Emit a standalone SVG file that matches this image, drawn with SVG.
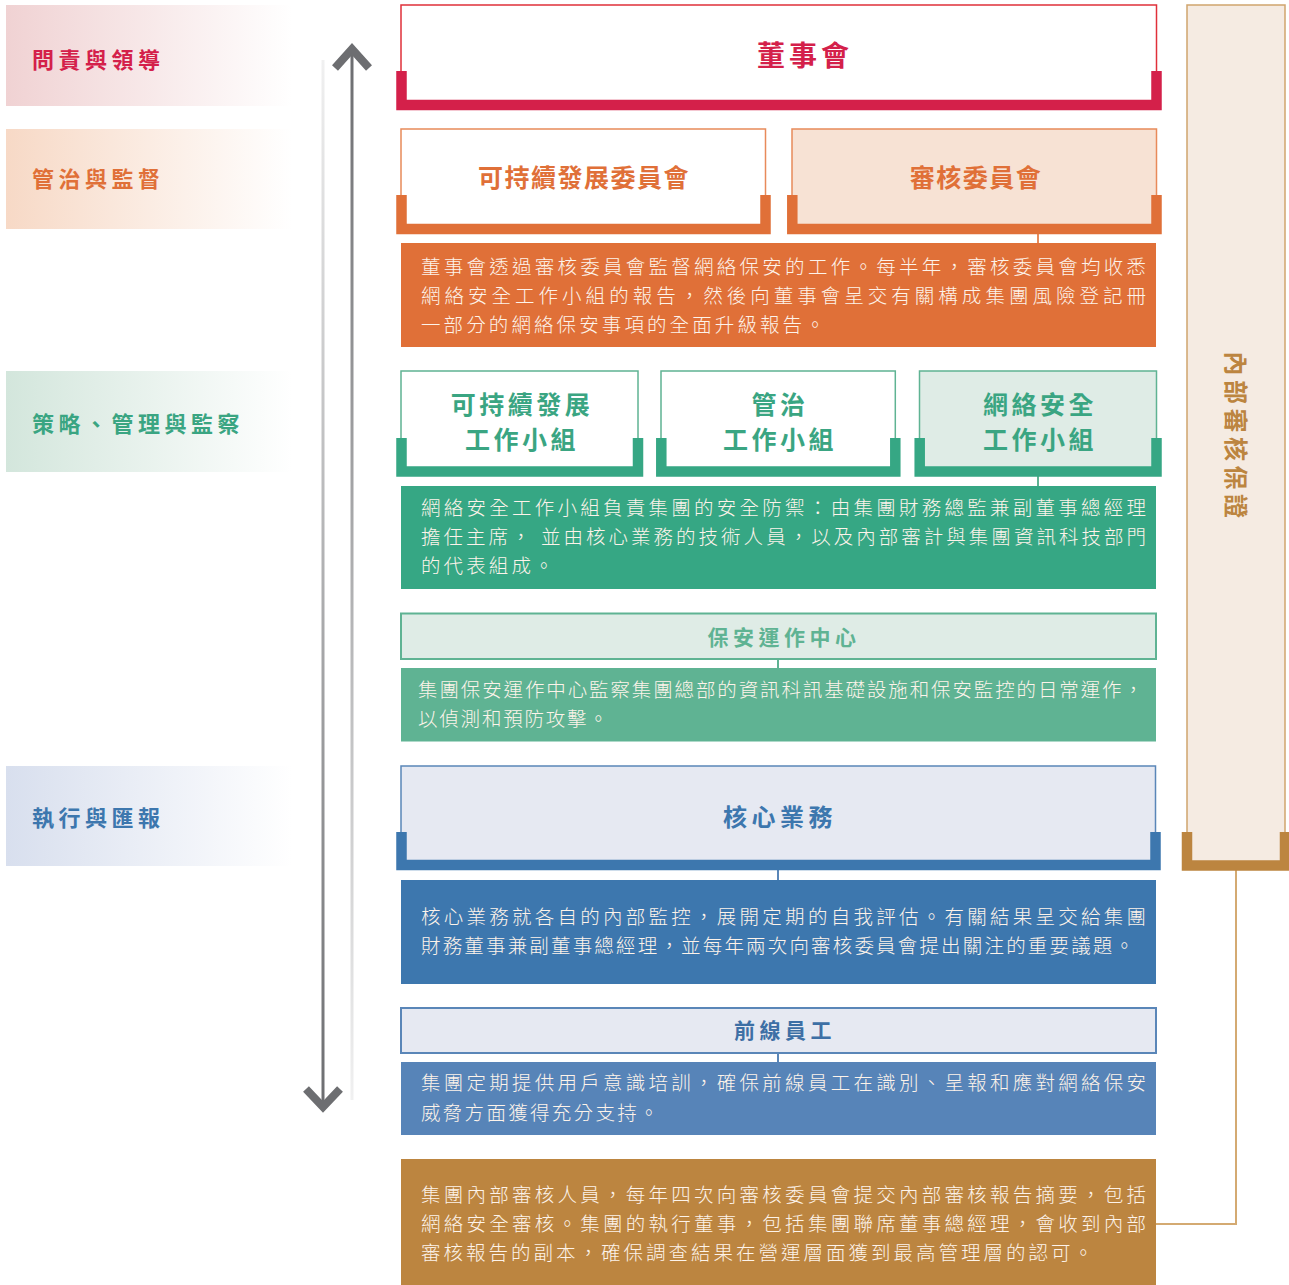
<svg xmlns="http://www.w3.org/2000/svg" width="1289" height="1285" viewBox="0 0 1289 1285">
<defs>
<linearGradient id="gRed" x1="0" x2="1" y1="0" y2="0"><stop offset="0" stop-color="#f0d2d3"/><stop offset="1" stop-color="#ffffff"/></linearGradient>
<linearGradient id="gOra" x1="0" x2="1" y1="0" y2="0"><stop offset="0" stop-color="#f7d9c6"/><stop offset="1" stop-color="#ffffff"/></linearGradient>
<linearGradient id="gGrn" x1="0" x2="1" y1="0" y2="0"><stop offset="0" stop-color="#d3e6dc"/><stop offset="1" stop-color="#ffffff"/></linearGradient>
<linearGradient id="gBlu" x1="0" x2="1" y1="0" y2="0"><stop offset="0" stop-color="#d8dfee"/><stop offset="1" stop-color="#ffffff"/></linearGradient>
<linearGradient id="gUp" gradientUnits="userSpaceOnUse" x1="0" y1="60" x2="0" y2="1100"><stop offset="0" stop-color="#6d6e71"/><stop offset="1" stop-color="#6d6e71" stop-opacity="0.1"/></linearGradient>
<linearGradient id="gDown" gradientUnits="userSpaceOnUse" x1="0" y1="60" x2="0" y2="1100"><stop offset="0" stop-color="#6d6e71" stop-opacity="0.1"/><stop offset="1" stop-color="#6d6e71"/></linearGradient>
</defs>
<style>
text{font-family:"Noto Sans CJK TC","Noto Sans CJK SC",sans-serif;}
.lab{font-size:22px;font-weight:700;letter-spacing:4.5px;}
.ttl{font-weight:700;text-anchor:middle;}
.desc{font-size:19.5px;font-weight:300;fill:#fdf3ea;}
.thin{stroke-width:1.5;}
.br{fill:none;stroke-width:10.5;stroke-linejoin:miter;stroke-linecap:butt;}
.conn{fill:none;stroke-width:2;}
</style>

<g id="labels">
<g id="label-accountability"><rect x="6" y="5" width="286" height="101" fill="url(#gRed)"/><text class="lab" x="32" y="68" fill="#d4204a">問責與領導</text></g>
<g id="label-governance"><rect x="6" y="129" width="286" height="100" fill="url(#gOra)"/><text class="lab" x="32" y="187" fill="#e07038">管治與監督</text></g>
<g id="label-strategy"><rect x="6" y="371" width="286" height="101" fill="url(#gGrn)"/><text class="lab" x="32" y="432" fill="#3aa582">策略、管理與監察</text></g>
<g id="label-execution"><rect x="6" y="766" width="286" height="100" fill="url(#gBlu)"/><text class="lab" x="32" y="826" fill="#3d77ae">執行與匯報</text></g>
</g>

<g id="arrows">
<line x1="352" y1="50" x2="352" y2="1100" stroke="url(#gUp)" stroke-width="3"/>
<polyline points="335,68 352,49 369,68" fill="none" stroke="#6d6e71" stroke-width="8" stroke-linejoin="miter"/>
<line x1="323" y1="60" x2="323" y2="1105" stroke="url(#gDown)" stroke-width="3"/>
<polyline points="306,1089 323,1107 340,1089" fill="none" stroke="#6d6e71" stroke-width="8" stroke-linejoin="miter"/>
</g>

<g id="connectors">
<line class="conn" x1="1038" y1="234" x2="1038" y2="243" stroke="#e88a5a"/>
<line class="conn" x1="1038" y1="476" x2="1038" y2="486" stroke="#5fb393"/>
<line class="conn" x1="778" y1="659" x2="778" y2="668" stroke="#5fb393"/>
<line class="conn" x1="778" y1="870" x2="778" y2="880" stroke="#5a86b8"/>
<line class="conn" x1="778" y1="1053" x2="778" y2="1062" stroke="#5a86b8"/>
<polyline class="conn" points="1236,870 1236,1224 1156,1224" stroke="#d4aa72"/>
</g>

<g id="board">
<rect x="401" y="5" width="755.5" height="98" fill="#ffffff" stroke="#e0303a" class="thin"/>
<path class="br" d="M401.5,71 V105 H1156.5 V71" stroke="#d4204a"/>
<text class="ttl" x="805" y="66" font-size="28" letter-spacing="4" fill="#d4204a">董事會</text>
</g>

<g id="sustainability-committee">
<rect x="401" y="129" width="364.5" height="98" fill="#ffffff" stroke="#e88a5a" class="thin"/>
<path class="br" d="M401.5,195 V229 H765.5 V195" stroke="#e07038"/>
<text class="ttl" x="584" y="187" font-size="25" letter-spacing="1.5" fill="#e07038">可持續發展委員會</text>
</g>

<g id="audit-committee">
<rect x="792" y="129" width="364.5" height="98" fill="#f7e2d4" stroke="#e88a5a" class="thin"/>
<path class="br" d="M792.3,195 V229 H1156.5 V195" stroke="#e07038"/>
<text class="ttl" x="976" y="187" font-size="25" letter-spacing="1.5" fill="#e07038">審核委員會</text>
</g>

<g id="audit-desc">
<rect x="401" y="243" width="755" height="104" fill="#e07038"/>
<text class="desc" x="421" y="274" textLength="725" lengthAdjust="spacing">董事會透過審核委員會監督網絡保安的工作。每半年，審核委員會均收悉</text>
<text class="desc" x="421" y="303" textLength="725" lengthAdjust="spacing">網絡安全工作小組的報告，然後向董事會呈交有關構成集團風險登記冊</text>
<text class="desc" x="421" y="332" letter-spacing="3.1">一部分的網絡保安事項的全面升級報告。</text>
</g>

<g id="wg-sustainability">
<rect x="401" y="371" width="237" height="98" fill="#ffffff" stroke="#5fb393" class="thin"/>
<path class="br" d="M401.5,438 V471.5 H638 V438" stroke="#36a784"/>
<text class="ttl" x="522" y="414" font-size="25" letter-spacing="3.5" fill="#3aa582">可持續發展</text>
<text class="ttl" x="522" y="449" font-size="25" letter-spacing="3.5" fill="#3aa582">工作小組</text>
</g>

<g id="wg-governance">
<rect x="661" y="371" width="234.3" height="98" fill="#ffffff" stroke="#5fb393" class="thin"/>
<path class="br" d="M661.3,438 V471.5 H895.3 V438" stroke="#36a784"/>
<text class="ttl" x="780" y="414" font-size="25" letter-spacing="3.5" fill="#3aa582">管治</text>
<text class="ttl" x="780" y="449" font-size="25" letter-spacing="3.5" fill="#3aa582">工作小組</text>
</g>

<g id="wg-cyber">
<rect x="919.5" y="371" width="237" height="98" fill="#dfece6" stroke="#5fb393" class="thin"/>
<path class="br" d="M919.7,438 V471.5 H1156.5 V438" stroke="#36a784"/>
<text class="ttl" x="1040" y="414" font-size="25" letter-spacing="3.5" fill="#3aa582">網絡安全</text>
<text class="ttl" x="1040" y="449" font-size="25" letter-spacing="3.5" fill="#3aa582">工作小組</text>
</g>

<g id="cyber-desc">
<rect x="401" y="486" width="755" height="103" fill="#36a784"/>
<text class="desc" x="421" y="515" textLength="725" lengthAdjust="spacing">網絡安全工作小組負責集團的安全防禦：由集團財務總監兼副董事總經理</text>
<text class="desc" x="421" y="544" textLength="725" lengthAdjust="spacing" xml:space="preserve">擔任主席， 並由核心業務的技術人員，以及內部審計與集團資訊科技部門</text>
<text class="desc" x="421" y="573" letter-spacing="3.1">的代表組成。</text>
</g>

<g id="soc">
<rect x="401" y="613.5" width="755" height="45.5" fill="#dfece6" stroke="#5fb393" stroke-width="2"/>
<text class="ttl" x="784" y="645" font-size="21" letter-spacing="4.5" fill="#5fb393">保安運作中心</text>
</g>

<g id="soc-desc">
<rect x="401" y="668" width="755" height="73.5" fill="#5fb393"/>
<text class="desc" x="418" y="697" textLength="725" lengthAdjust="spacing">集團保安運作中心監察集團總部的資訊科訊基礎設施和保安監控的日常運作，</text>
<text class="desc" x="418" y="726" letter-spacing="1.8">以偵測和預防攻擊。</text>
</g>

<g id="core-business">
<rect x="401" y="766" width="754.5" height="96" fill="#e6e9f2" stroke="#5a86b8" class="thin"/>
<path class="br" d="M401.5,832 V865 H1155.5 V832" stroke="#3d77ae"/>
<text class="ttl" x="780" y="826" font-size="24" letter-spacing="4.5" fill="#3d77ae">核心業務</text>
</g>

<g id="core-desc">
<rect x="401" y="880" width="755" height="104" fill="#3d77ae"/>
<text class="desc" x="421" y="924" textLength="725" lengthAdjust="spacing">核心業務就各自的內部監控，展開定期的自我評估。有關結果呈交給集團</text>
<text class="desc" x="421" y="953" textLength="713" lengthAdjust="spacing">財務董事兼副董事總經理，並每年兩次向審核委員會提出關注的重要議題。</text>
</g>

<g id="frontline">
<rect x="401" y="1008" width="755" height="45" fill="#e6e9f2" stroke="#5a86b8" stroke-width="2"/>
<text class="ttl" x="785" y="1038" font-size="21" letter-spacing="4.5" fill="#3d6fa5">前線員工</text>
</g>

<g id="frontline-desc">
<rect x="401" y="1062" width="755" height="73" fill="#5784b8"/>
<text class="desc" x="421" y="1090" textLength="725" lengthAdjust="spacing">集團定期提供用戶意識培訓，確保前線員工在識別、呈報和應對網絡保安</text>
<text class="desc" x="421" y="1120" letter-spacing="2.3">威脅方面獲得充分支持。</text>
</g>

<g id="internal-audit">
<rect x="1187" y="5" width="98" height="857" fill="#f5ebe2" stroke="#d0a56d" class="thin"/>
<path class="br" d="M1187,832 V865.5 H1285 V832" stroke="#bc8540"/>
<text class="ttl" transform="translate(1237,437) rotate(90)" dominant-baseline="central" font-size="24" letter-spacing="4.5" fill="#bc8540">內部審核保證</text>
</g>

<g id="internal-audit-desc">
<rect x="401" y="1159" width="755" height="126" fill="#bc8540"/>
<text class="desc" x="421" y="1202" textLength="725" lengthAdjust="spacing">集團內部審核人員，每年四次向審核委員會提交內部審核報告摘要，包括</text>
<text class="desc" x="421" y="1231" textLength="725" lengthAdjust="spacing">網絡安全審核。集團的執行董事，包括集團聯席董事總經理，會收到內部</text>
<text class="desc" x="421" y="1260" letter-spacing="3.0">審核報告的副本，確保調查結果在營運層面獲到最高管理層的認可。</text>
</g>
</svg>
